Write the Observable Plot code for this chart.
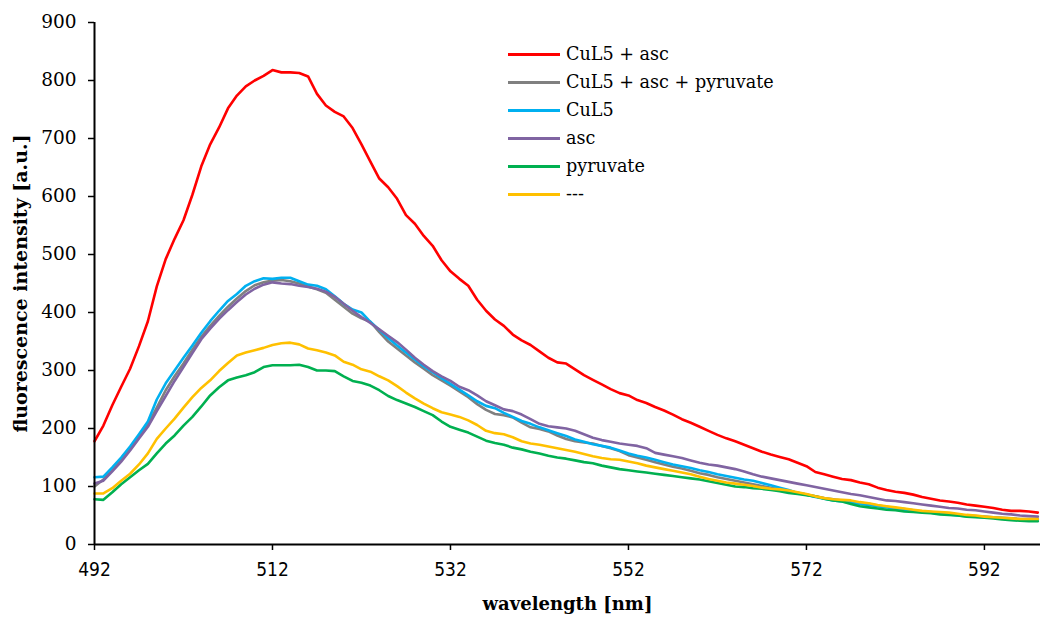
<!DOCTYPE html>
<html><head><meta charset="utf-8">
<script src="https://cdn.jsdelivr.net/npm/d3@7"></script>
<script src="https://cdn.jsdelivr.net/npm/@observablehq/plot@0.6"></script>
<style>
body{margin:0;background:#fff;}
#wrap{position:relative;width:1044px;height:619px;}
#legend{position:absolute;left:508px;top:40px;font-family:"DejaVu Serif",serif;font-size:17.6px;color:#000;}
.row{display:flex;align-items:center;height:28px;white-space:nowrap;}
.sw{width:52px;height:3px;margin-right:6px;}
.xt text{font-family:"DejaVu Sans Condensed","Liberation Sans Narrow",sans-serif;font-size:19px;}
.yt text{font-family:"DejaVu Serif",serif;font-size:18.5px;}
</style></head><body><div id="wrap"><div id="legend"></div></div>
<script>
const wavelengths = [492,493,494,495,496,497,498,499,500,501,
502,503,504,505,506,507,508,509,510,511,
512,513,514,515,516,517,518,519,520,521,
522,523,524,525,526,527,528,529,530,531,
532,533,534,535,536,537,538,539,540,541,
542,543,544,545,546,547,548,549,550,551,
552,553,554,555,556,557,558,559,560,561,
562,563,564,565,566,567,568,569,570,571,
572,573,574,575,576,577,578,579,580,581,
582,583,584,585,586,587,588,589,590,591,
592,593,594,595,596,597,598];

const cul5Asc = [178,205,240,272,303,342,385,445,492,527,
559,603,652,690,719,752,774,790,800,808,
818,814,814,813,807,777,757,746,738,718,
690,660,631,616,596,568,553,532,515,490,
471,458,446,422,403,388,377,362,352,344,
333,322,314,312,302,292,284,276,268,261,
257,249,244,237,231,224,216,210,203,196,
189,183,178,172,166,160,155,151,147,141,
135,125,121,117,113,111,107,104,98,94,
91,89,86,82,79,76,74,72,69,67,
65,63,60,58,58,57,55];

const cul5AscPyruvate = [100,112,128,146,166,186,207,236,266,290,
312,336,358,377,394,410,424,437,447,452,
455,456,454,450,445,440,434,422,410,398,
390,384,366,350,338,326,314,303,292,283,
274,264,254,242,232,225,223,219,210,202,
199,195,188,182,178,176,174,170,166,161,
154,150,146,142,138,134,131,127,123,120,
116,113,110,107,104,101,98,95,92,89,
86,83,80,78,76,74,72,70,67,65,
63,61,59,57,56,54,53,51,50,49,
48,47,46,45,44,44,44];

const cul5 = [116,117,133,150,169,190,212,250,278,300,
322,343,365,385,403,420,432,446,454,459,
458,460,460,454,448,446,440,428,415,405,
400,384,370,356,343,331,319,307,297,287,
277,267,257,247,239,235,227,220,213,208,
202,197,192,187,181,177,173,170,167,162,
157,153,150,146,142,138,135,132,128,125,
121,118,115,112,110,106,102,98,94,89,
86,82,79,76,74,72,70,68,66,64,
62,60,58,57,55,53,52,50,49,48,
47,46,45,44,43,43,43];

const asc = [105,110,126,143,162,183,203,230,256,282,
306,330,354,372,389,404,418,431,441,448,
452,450,449,446,444,441,436,427,415,403,
392,382,371,360,349,336,322,310,299,290,
282,272,266,257,247,240,233,230,224,216,
208,204,202,200,196,190,184,180,177,174,
172,170,166,158,155,152,149,145,141,138,
136,133,130,126,121,117,114,111,108,105,
102,99,96,93,90,87,85,82,79,76,
75,73,71,69,67,65,63,62,60,59,
57,55,53,52,50,49,48];

const pyruvate = [78,77,90,104,116,128,139,157,174,188,
205,220,238,257,271,283,288,292,297,306,
309,309,309,310,306,300,300,299,290,282,
279,274,266,256,249,243,237,230,223,212,
203,198,193,186,179,175,172,167,164,160,
157,153,150,148,145,142,140,136,133,130,
128,126,124,122,120,118,116,114,112,109,
106,103,100,99,97,96,94,92,89,87,
85,83,79,76,74,70,66,64,62,60,
59,57,56,55,54,52,51,50,48,47,
46,45,43,42,41,40,40];

const blank = [88,88,97,110,122,138,157,182,200,217,
236,254,270,283,299,313,326,331,335,339,
344,347,348,345,338,335,331,326,315,310,
302,298,290,283,273,262,252,243,235,228,
224,220,214,206,196,192,190,185,178,174,
172,169,166,163,160,156,152,149,147,146,
143,140,136,133,130,127,124,121,117,113,
110,107,105,103,101,98,96,95,93,90,
87,83,80,78,77,76,73,71,68,66,
64,62,60,58,57,56,55,53,51,50,
48,47,46,45,44,44,44];

const seriesNames = ["CuL5 + asc", "CuL5 + asc + pyruvate", "CuL5", "asc", "pyruvate", "---"];
const seriesValues = [cul5Asc, cul5AscPyruvate, cul5, asc, pyruvate, blank];
const seriesColors = ["#FF0000", "#808080", "#00B0F0", "#8064A2", "#00B050", "#FFC000"];
const xTicks = [492, 512, 532, 552, 572, 592];
const yTicks = [0, 100, 200, 300, 400, 500, 600, 700, 800, 900];
const xTitle = "wavelength [nm]";
const yTitle = "fluorescence intensity [a.u.]";

const rows = seriesNames.flatMap((name, i) =>
  seriesValues[i].map((v, j) => ({series: name, wl: wavelengths[j], value: v})));

const chart = Plot.plot({
  width: 1044, height: 619,
  marginLeft: 94, marginRight: 4, marginTop: 22, marginBottom: 75,
  style: {background: "#fff", color: "#000", fontFamily: "DejaVu Serif, serif"},
  x: {domain: [492, 598.3]},
  y: {domain: [0, 900]},
  color: {domain: seriesNames, range: seriesColors},
  marks: [
    Plot.axisX({ticks: xTicks, tickSize: 6, tickPadding: 12, tickFormat: d => String(d), label: null, className: "xt", stroke: "#000", strokeWidth: 1.5}),
    Plot.axisY({ticks: yTicks, tickSize: 6, tickPadding: 12, label: null, className: "yt", stroke: "#000", strokeWidth: 1.5}),
    Plot.line(rows, {x: "wl", y: "value", z: "series", stroke: "series", strokeWidth: 2.6, strokeLinejoin: "round"}),
    Plot.ruleX([492], {stroke: "#000", strokeWidth: 2}),
    Plot.ruleY([0], {stroke: "#000", strokeWidth: 2}),
    Plot.text([yTitle], {frameAnchor: "left", textAnchor: "middle", rotate: -90, dx: -74, fontWeight: "bold", fontSize: 19, fill: "#000", fontFamily: "DejaVu Serif, serif"}),
    Plot.text([xTitle], {frameAnchor: "bottom", textAnchor: "middle", dy: 65, fontWeight: "bold", fontSize: 18, fill: "#000", fontFamily: "DejaVu Serif, serif"})
  ]
});
document.getElementById("wrap").prepend(chart);

const legend = document.getElementById("legend");
seriesNames.forEach((name, i) => {
  const row = document.createElement("div");
  row.className = "row";
  const sw = document.createElement("div");
  sw.className = "sw";
  sw.style.background = seriesColors[i];
  const t = document.createElement("span");
  t.textContent = name;
  row.append(sw, t);
  legend.append(row);
});
</script>
</body></html>
